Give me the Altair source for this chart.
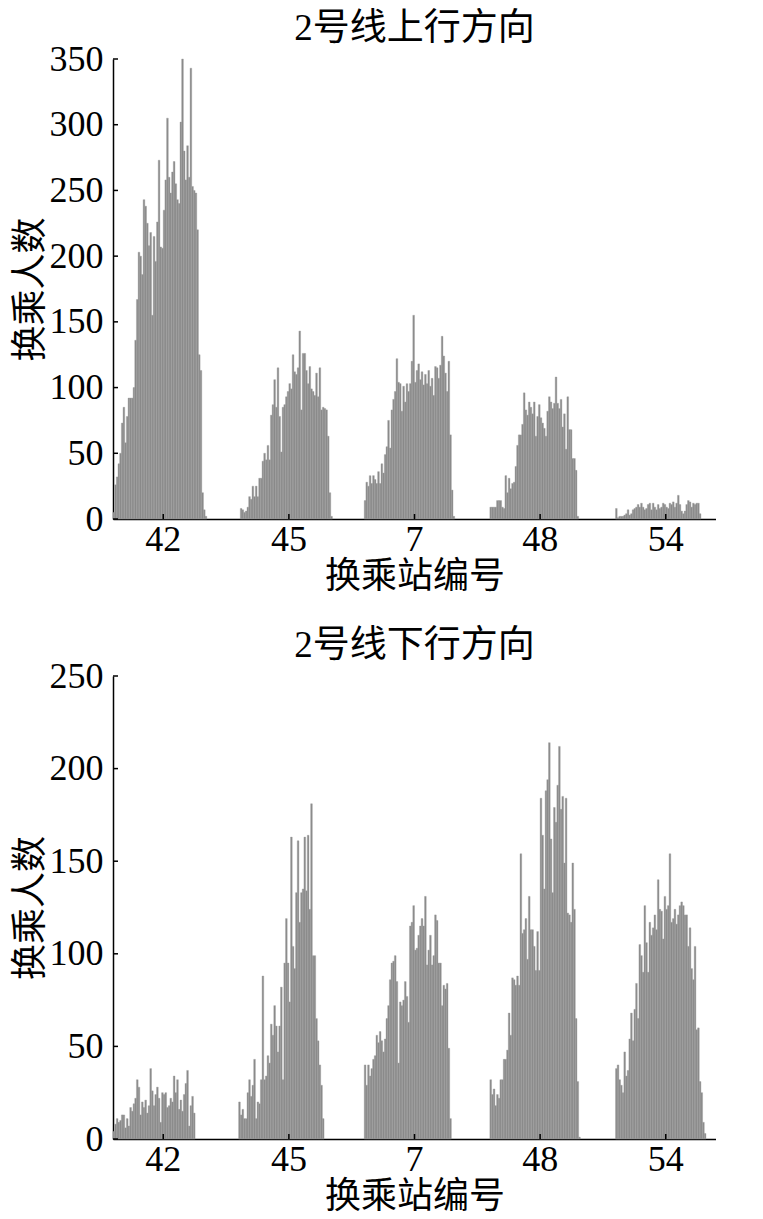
import altair as alt
import pandas as pd

stations = ["42", "45", "7", "48", "54"]
N_SLOTS = 60

# 2号线上行方向 (upstream) — transfer counts per time slot, per station
up_42 = [5, 26, 32, 42, 50, 73, 85, 58, 78, 92, 92, 92, 100, 136, 167, 203, 200, 186, 243, 238,
         225, 208, 218, 155, 215, 196, 226, 273, 207, 206, 235, 258, 305, 260, 248, 264, 272, 255, 243, 240,
         302, 350, 280, 258, 284, 260, 343, 253, 250, 248, 220, 125, 113, 20, 7, 2]
up_45 = [0, 8, 7, 5, 6, 9, 17, 15, 25, 17, 25, 17, 31, 31, 44, 50, 45, 56, 45, 79,
         87, 106, 85, 115, 78, 51, 85, 87, 93, 97, 103, 99, 125, 112, 110, 115, 143, 83, 126, 126,
         113, 103, 116, 99, 97, 94, 111, 93, 115, 83, 85, 84, 83, 63, 20, 2]
up_7 = [14, 28, 25, 33, 27, 33, 30, 27, 36, 27, 42, 35, 49, 55, 75, 54, 83, 91, 97, 122,
        104, 103, 82, 101, 89, 103, 97, 103, 120, 155, 104, 113, 118, 106, 112, 102, 110, 103, 113, 101,
        107, 94, 116, 115, 107, 117, 139, 124, 111, 97, 120, 64, 22, 2]
up_48 = [9, 9, 9, 9, 14, 14, 14, 9, 8, 33, 20, 31, 23, 27, 28, 40, 56, 64, 64, 72,
         96, 83, 79, 89, 85, 80, 89, 63, 78, 87, 77, 73, 69, 63, 82, 93, 89, 84, 88, 108,
         88, 84, 91, 70, 80, 53, 93, 68, 68, 46, 46, 37, 2]
up_54 = [8, 1, 2, 2, 2, 3, 4, 7, 3, 4, 7, 8, 9, 11, 9, 12, 9, 7, 8, 11,
         12, 7, 12, 9, 7, 11, 8, 9, 12, 11, 9, 8, 12, 11, 13, 9, 12, 18, 11, 6,
         4, 6, 11, 14, 13, 9, 12, 11, 12, 12, 4]

# 2号线下行方向 (downstream)
dn_42 = [4, 8, 11, 9, 10, 13, 13, 6, 11, 7, 17, 15, 19, 22, 32, 28, 13, 20, 17, 21,
         14, 18, 38, 26, 18, 24, 28, 22, 9, 25, 24, 25, 17, 18, 22, 20, 34, 25, 32, 16,
         21, 15, 24, 30, 37, 7, 18, 23, 14]
dn_45 = [20, 13, 16, 11, 11, 25, 32, 23, 29, 43, 11, 20, 19, 32, 88, 32, 34, 45, 41, 62,
         56, 72, 61, 47, 61, 82, 32, 95, 119, 95, 74, 163, 104, 92, 133, 161, 117, 133, 135, 163,
         134, 164, 124, 181, 99, 99, 65, 53, 40, 29, 11]
dn_7 = [40, 29, 40, 34, 38, 43, 45, 56, 52, 58, 53, 47, 54, 65, 72, 86, 95, 96, 99, 85,
        41, 74, 72, 75, 85, 77, 63, 115, 117, 126, 102, 103, 110, 115, 119, 115, 131, 94, 102, 110,
        94, 99, 121, 118, 95, 95, 72, 83, 81, 84, 49, 11]
dn_48 = [32, 24, 27, 18, 24, 22, 32, 32, 43, 43, 48, 68, 56, 87, 86, 83, 88, 83, 154, 111,
         113, 119, 97, 131, 113, 113, 104, 91, 112, 91, 184, 164, 135, 188, 194, 214, 162, 133, 179, 171,
         191, 212, 178, 185, 149, 184, 122, 121, 117, 149, 124, 65, 31, 1]
dn_54 = [38, 40, 32, 29, 25, 47, 34, 37, 54, 68, 53, 70, 84, 65, 105, 99, 90, 126, 106, 90,
         117, 110, 114, 121, 113, 140, 124, 123, 108, 131, 124, 126, 154, 117, 119, 124, 116, 121, 126, 128,
         126, 121, 121, 104, 114, 92, 86, 104, 59, 60, 31, 25, 9, 3]

up_ticks = [0, 50, 100, 150, 200, 250, 300, 350]
dn_ticks = [0, 50, 100, 150, 200, 250]

FONT_NUM = "Liberation Serif"
FONT_TXT = "Liberation Serif, Noto Sans CJK SC"
BAR_COLOR = "#8a8a8a"
BAR_EDGE = "#9c9c9c"


def frame(groups):
    rows = []
    for s, vals in zip(stations, groups):
        for j, v in enumerate(vals):
            rows.append({"station": s, "slot": j, "value": v})
    return pd.DataFrame(rows)


def panel(df, title, ticks, h):
    ymax = ticks[-1]
    xscale = alt.Scale(paddingInner=0.2, paddingOuter=0)
    yscale = alt.Scale(domain=[0, ymax], nice=False)
    bars = alt.Chart(df).transform_filter("datum.value > 0").mark_bar(
        color=BAR_COLOR, stroke=BAR_EDGE, strokeWidth=0.4).encode(
        x=alt.X("station:N", sort=stations, scale=xscale,
                axis=alt.Axis(title="换乘站编号", labelAngle=0, tickSize=0,
                              labelPadding=3, titlePadding=2)),
        xOffset=alt.XOffset("slot:O", scale=alt.Scale(domain=list(range(N_SLOTS)), paddingInner=0.0)),
        y=alt.Y("value:Q", scale=yscale,
                axis=alt.Axis(title="换乘人数", values=ticks, tickSize=0,
                              labelPadding=10, titlePadding=0)),
    )
    ytick = alt.Chart(pd.DataFrame({"value": ticks})).mark_rule(
        color="black", strokeWidth=1.5).encode(
        y=alt.Y("value:Q", scale=yscale), x=alt.value(0), x2=alt.value(5))
    xtick = alt.Chart(pd.DataFrame({"station": stations})).mark_rule(
        color="black", strokeWidth=1.5).encode(
        x=alt.X("station:N", sort=stations, scale=xscale),
        y=alt.value(h), y2=alt.value(h - 5))
    return alt.layer(bars, ytick, xtick).properties(
        width=603, height=h,
        title=alt.Title(title, font=FONT_TXT, fontSize=37, fontWeight="normal",
                        color="black", anchor="middle", offset=-7))


top = panel(frame([up_42, up_45, up_7, up_48, up_54]), "2号线上行方向", up_ticks, 460)
bottom = panel(frame([dn_42, dn_45, dn_7, dn_48, dn_54]), "2号线下行方向", dn_ticks, 463)

chart = alt.vconcat(top, bottom, spacing=33).properties(
    padding={"left": 4, "top": 2, "right": 0, "bottom": 0}
).configure_view(stroke=None).configure_axis(
    grid=False, domainColor="black", domainWidth=1.5,
    labelFont=FONT_NUM, labelFontSize=36, labelColor="black",
    titleFont=FONT_TXT, titleFontSize=36, titleFontWeight="normal", titleColor="black",
)

chart.save("out.html", embed_options={"renderer": "svg", "actions": False})
